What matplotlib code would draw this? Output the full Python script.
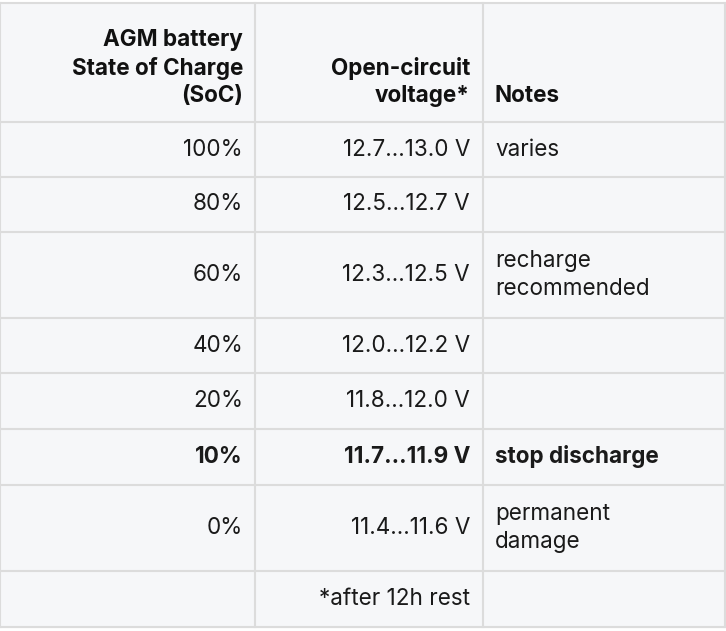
import matplotlib.pyplot as plt

plt.rcParams['font.family'] = ['Inter', 'DejaVu Sans']

# table contents
headers = ["AGM battery\nState of Charge\n(SoC)", "Open-circuit\nvoltage*", "Notes"]
soc = ["100%", "80%", "60%", "40%", "20%", "10%", "0%", ""]
voltage = ["12.7...13.0 V", "12.5...12.7 V", "12.3...12.5 V", "12.0...12.2 V",
           "11.8...12.0 V", "11.7...11.9 V", "11.4...11.6 V", "*after 12h rest"]
notes = ["varies", "", "recharge\nrecommended", "", "", "stop discharge",
         "permanent\ndamage", ""]
bold_rows = [5]

# layout in pixels
row_edges = [3, 122, 177, 232, 318, 373, 429, 485, 571, 627]
col_edges = [0, 255, 483, 725]

fig = plt.figure(figsize=(7.26, 6.31), dpi=100)
fig.patch.set_facecolor('white')
ax = fig.add_axes([0, 0, 1, 1])
ax.set_xlim(0, 726)
ax.set_ylim(631, 0)
ax.axis('off')
ax.fill_between([col_edges[0], col_edges[-1]], row_edges[0], row_edges[-1],
                color='#f6f7f9', zorder=0)

for y in row_edges:
    ax.plot([col_edges[0], col_edges[-1]], [y, y], color='#dcdcdc', lw=1.5)
for x in col_edges:
    ax.plot([x, x], [row_edges[0], row_edges[-1]], color='#dcdcdc', lw=1.5)

fs = 16.2
col_x = [243, 470, 495]
aligns = ['right', 'right', 'left']
for i, h in enumerate(headers):
    ax.text(col_x[i], 102, h, ha=aligns[i], va='baseline', fontsize=fs,
            fontweight='bold', color='#111111', linespacing=1.32,
            multialignment=aligns[i])

for r in range(len(soc)):
    yc = (row_edges[r + 1] + row_edges[r + 2]) / 2
    w = 'bold' if r in bold_rows else 'normal'
    for i, val in enumerate([soc[r], voltage[r], notes[r]]):
        ax.text(col_x[i], yc, val, ha=aligns[i], va='center', fontsize=fs,
                fontweight=w, color='#1a1a1a', linespacing=1.32,
                multialignment=aligns[i])

fig.savefig('out.png', dpi=100)
